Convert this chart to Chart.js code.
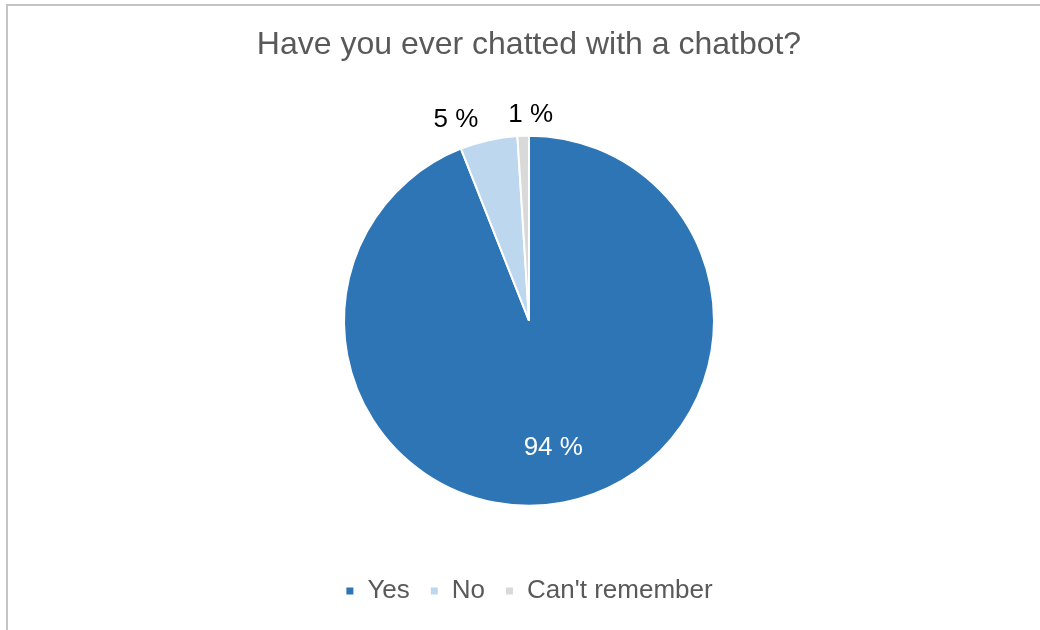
<!DOCTYPE html>
<html>
<head>
<meta charset="utf-8">
<title>Have you ever chatted with a chatbot?</title>
<script src="https://cdn.jsdelivr.net/npm/chart.js@4/dist/chart.umd.min.js"></script>
<style>
    html, body { margin: 0; padding: 0; background: #fff; overflow: hidden; }
    .chart-frame {
        position: absolute;
        left: 6px;
        top: 4px;
        width: 1042px;
        height: 624px;
        border-top: 2px solid #c4c4c4;
        border-left: 2px solid #c4c4c4;
    }
</style>
</head>
<body>
<div class="chart-frame">
    <canvas id="chatbotChart" width="1042" height="624"></canvas>
</div>
<script>
// Survey answers
const answers = ['Yes', 'No', "Can't remember"];
const shares = [94, 5, 1];
const sliceColors = ['#2e75b6', '#bdd7ee', '#d9d9d9'];

// Percent labels: big slices inside in white, small ones outside the rim
const sliceLabels = {
    id: 'sliceLabels',
    afterDatasetsDraw(chart) {
        const ctx = chart.ctx;
        const meta = chart.getDatasetMeta(0);
        const values = chart.data.datasets[0].data;
        const outside = [];
        ctx.save();
        ctx.font = '26px "Liberation Sans", Arial, sans-serif';
        ctx.textBaseline = 'middle';
        ctx.textAlign = 'center';
        meta.data.forEach(function (arc, i) {
            const p = arc.getProps(['x', 'y', 'startAngle', 'endAngle', 'outerRadius']);
            const mid = (p.startAngle + p.endAngle) / 2;
            const text = values[i] + ' %';
            const cos = Math.cos(mid);
            const sin = Math.sin(mid);
            if (values[i] >= 20) {
                const r = p.outerRadius * 0.7;
                ctx.fillStyle = '#ffffff';
                ctx.fillText(text, p.x + cos * r, p.y + sin * r);
            } else {
                const r = p.outerRadius * 1.06;
                const w = ctx.measureText(text).width;
                const k = Math.max(-1, Math.min(1, cos * 4));
                outside.push({
                    text: text,
                    w: w,
                    x: p.x + cos * r + k * w / 2,
                    y: p.y + sin * r + sin * 10
                });
            }
        });
        // keep neighbouring outside labels apart
        outside.sort(function (a, b) { return a.x - b.x; });
        for (let i = 1; i < outside.length; i++) {
            const a = outside[i - 1];
            const b = outside[i];
            const need = a.w / 2 + b.w / 2 + 30;
            const gap = b.x - a.x;
            if (gap < need) {
                const push = (need - gap) / 2;
                a.x -= push;
                b.x += push;
            }
        }
        ctx.fillStyle = '#000000';
        outside.forEach(function (l) {
            ctx.fillText(l.text, l.x, l.y);
        });
        ctx.restore();
    }
};

new Chart(document.getElementById('chatbotChart').getContext('2d'), {
    type: 'pie',
    data: {
        labels: answers,
        datasets: [{
            data: shares,
            backgroundColor: sliceColors,
            borderColor: '#ffffff',
            borderWidth: 2,
            radius: 185
        }]
    },
    options: {
        responsive: false,
        animation: false,
        layout: { padding: { bottom: 16 } },
        plugins: {
            title: {
                display: true,
                text: 'Have you ever chatted with a chatbot?',
                color: '#595959',
                font: { family: '"Liberation Sans", Arial, sans-serif', size: 32, weight: 'normal' },
                padding: { top: 20, bottom: 19 }
            },
            legend: {
                position: 'bottom',
                labels: {
                    color: '#595959',
                    font: { family: '"Liberation Sans", Arial, sans-serif', size: 26 },
                    boxWidth: 9,
                    boxHeight: 9,
                    padding: 20
                }
            },
            tooltip: { enabled: false }
        }
    },
    plugins: [sliceLabels]
});
</script>
</body>
</html>
